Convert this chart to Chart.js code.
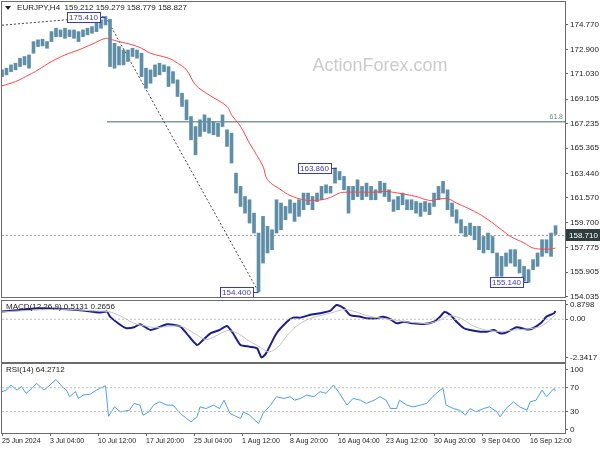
<!DOCTYPE html>
<html>
<head>
<meta charset="utf-8">
<script src="https://cdn.jsdelivr.net/npm/chart.js@4.4.1/dist/chart.umd.min.js"></script>
<style>
  html, body { margin: 0; padding: 0; background: #fff; }
  #wrap { position: relative; width: 600px; height: 450px; overflow: hidden; }
  canvas { position: absolute; left: 0; }
</style>
</head>
<body>
<div id="wrap">
  <canvas id="priceChart" width="600" height="305" style="top:0"></canvas>
  <canvas id="macdChart" width="600" height="70" style="top:296px"></canvas>
  <canvas id="rsiChart" width="600" height="92" style="top:358px"></canvas>
</div>
<script>
// time axis (H4 bar index) and its labels
const xTickIdx = [0, 32, 64, 96, 128, 160, 192, 224, 256, 288, 320, 352];
const xLabels = ['25 Jun 2024', '3 Jul 04:00', '10 Jul 12:00', '17 Jul 20:00', '25 Jul 04:00', '1 Aug 12:00',
                 '8 Aug 20:00', '16 Aug 04:00', '23 Aug 12:00', '30 Aug 20:00', '9 Sep 04:00', '16 Sep 12:00'];
const priceTicks = [174.770, 172.900, 171.030, 169.105, 167.235, 165.365, 163.440, 161.570, 159.700, 157.775, 155.905, 154.035];

// price bars, one per 3 H4 bars
const barStep = 3;
const barHigh = [171.34,171.47,171.72,171.85,172.23,172.36,172.48,173.50,173.63,173.68,
  173.50,174.26,174.52,174.39,174.52,174.39,174.39,174.26,174.39,174.52,
  174.64,174.90,175.15,175.41,175.20,173.37,173.12,172.86,172.86,172.99,
  172.86,172.61,171.47,171.34,171.72,171.85,171.72,171.59,171.21,170.58,
  169.56,169.05,167.78,167.02,167.53,167.91,167.66,167.40,167.27,167.91,
  166.77,166.51,163.46,162.45,161.68,161.43,160.41,158.89,160.16,159.40,
  159.14,161.43,161.18,160.92,161.43,161.18,161.43,161.94,161.94,161.68,
  161.94,162.45,162.57,162.45,163.86,163.59,163.21,162.45,162.45,162.95,
  162.45,162.70,162.45,162.19,162.83,162.70,162.19,161.43,161.68,161.94,
  161.43,161.43,161.30,161.18,161.30,161.18,161.94,162.45,162.83,162.19,
  161.18,160.67,159.91,159.40,159.65,159.40,159.40,158.63,158.89,158.63,
  157.37,157.11,157.37,157.62,157.62,156.86,156.35,156.10,156.86,157.37,
  158.38,158.38,158.89,159.45];
const barLow = [170.83,170.96,171.21,171.34,171.59,171.72,171.47,172.61,173.12,173.17,
  172.99,173.50,173.88,173.88,173.75,173.88,173.75,173.50,173.88,174.01,
  174.14,174.26,174.52,174.77,171.59,171.47,171.72,171.72,171.98,172.36,
  172.23,170.83,169.94,170.32,170.83,170.96,171.21,170.07,170.32,169.31,
  168.55,167.53,166.00,164.86,166.26,166.64,166.51,166.39,166.26,167.02,
  165.50,164.23,161.94,160.92,160.41,159.65,158.89,154.40,156.60,157.37,
  157.62,158.89,159.14,159.91,160.41,159.78,160.16,160.67,161.05,160.67,
  161.30,161.43,161.94,161.94,162.70,162.95,162.19,160.41,161.43,161.68,
  161.43,161.68,161.43,161.43,161.94,161.68,161.30,160.54,160.67,161.05,
  160.67,160.67,160.41,160.16,160.54,160.29,160.92,161.43,161.94,160.67,
  160.16,159.65,158.89,158.63,158.76,158.38,157.62,157.37,157.62,157.37,
  155.59,155.59,156.35,156.60,156.35,155.84,155.21,155.14,156.10,156.35,
  157.11,157.37,157.11,158.78];

// moving average
const maIdx = [0,9,18,24,33,42,51,60,69,72,78,87,93,99,111,117,123,129,138,150,
  153,159,165,174,177,186,192,201,207,213,219,225,231,240,249,255,264,276,285,291,
  297,303,315,324,333,339,348,354,360,366,369];
const maVal = [170.12,170.45,170.96,171.34,171.98,172.48,172.86,173.30,173.75,173.68,
  173.50,173.25,172.99,172.61,172.23,171.85,171.34,170.20,169.43,168.55,
  167.91,167.02,165.75,163.97,162.95,162.19,161.76,161.43,161.38,161.43,
  161.61,161.94,162.01,162.01,162.01,162.07,161.94,161.68,161.38,161.48,
  161.51,161.18,160.54,159.91,159.14,158.63,158.13,157.75,157.67,157.67,157.75];

// drawings
const trendIdx = [0, 69, 171];
const trendVal = [174.75, 175.41, 154.40];
const fibStartIdx = 70;
const fibLevel = 167.38;
const lastPrice = 158.710;
const markIdx = [69, 223, 171, 351];
const markPrice = [175.410, 163.860, 154.400, 155.140];

// MACD(12,26,9)
const macdTicks = [0.8798, 0, -2.3417];
const macdIdx = [0,12,25,43,54,65,70,72,79,83,88,92,99,103,110,114,119,123,130,134,
  139,145,150,154,159,165,170,173,176,183,190,194,199,205,212,219,223,228,232,239,
  243,250,254,259,263,268,274,281,288,292,295,299,303,308,312,319,323,328,332,336,
  343,350,354,359,363,368,369];
const macdVal = [0.47,0.57,0.67,0.61,0.53,0.41,0.47,0.16,-0.35,-0.55,
  -0.49,-0.31,-0.66,-0.55,-0.31,-0.33,-0.45,-0.86,-1.58,-1.27,
  -0.86,-0.66,-0.41,-0.86,-1.58,-1.68,-1.78,-2.34,-2.09,-0.86,
  -0.15,0.10,0.10,0.26,0.37,0.53,0.88,0.67,0.26,0.16,
  0.06,0.06,0.16,0.00,-0.25,-0.15,-0.25,-0.29,-0.15,0.16,
  0.45,0.26,-0.15,-0.55,-0.66,-0.76,-0.76,-0.66,-0.86,-0.82,
  -0.49,-0.62,-0.55,-0.25,0.16,0.37,0.51];
const sigIdx = [0,20,40,60,72,80,88,95,103,112,120,128,136,142,150,157,165,172,178,184,
  190,196,204,212,220,228,236,244,252,262,272,284,292,298,306,314,322,332,342,352,360,369];
const sigVal = [0.45,0.55,0.62,0.52,0.45,0.15,-0.25,-0.40,-0.52,-0.42,
  -0.45,-0.85,-1.25,-1.05,-0.70,-0.85,-1.35,-1.70,-2.00,-1.70,
  -1.00,-0.45,0.00,0.22,0.40,0.60,0.45,0.20,0.08,-0.05,
  -0.18,-0.25,-0.05,0.22,0.05,-0.40,-0.65,-0.75,-0.65,-0.58,-0.40,0.27];

// RSI(14)
const rsiTicks = [100, 70, 30, 0];
const rsiIdx = [0,3,6,10,13,16,20,23,28,32,36,40,43,45,49,51,54,59,63,69,
  71,75,79,85,88,92,94,98,101,105,110,114,119,123,126,130,132,136,141,145,
  148,152,159,161,165,171,174,179,183,188,192,195,199,203,208,212,216,221,225,230,
  234,239,243,248,252,256,259,263,265,270,274,279,283,287,292,294,296,301,305,309,
  312,316,321,325,330,332,336,341,345,350,352,356,360,363,368,369];
const rsiVal = [63.4,66.2,74.6,66,71.9,60.6,69,77.5,66,74.6,84,72,66,54.9,63.4,52,57.6,59.4,66,73.4,
  22,37.8,29.4,32.2,43.5,40.7,23.8,29.4,40.7,46.3,40.7,40.7,26.6,18.2,12.5,21,37.8,35,40.7,35,
  49,26.6,18.2,29.4,23.8,9.7,26.6,40.7,54.9,52,54.9,49,52,57.6,54.9,63.4,60.6,74.6,60.6,40.7,
  52,49,43.5,49,54.9,49,35,35,49,40.7,37.8,40.7,43.5,54.9,66,69,40.7,35,32.2,23.8,
  35,29.4,35,37.8,29.4,21,35,46.3,37.8,32.2,46.3,49,66,54.9,69,64.27];

const FONT = '"Liberation Sans", Arial, sans-serif';
const X_MAX = 375.3;
const pts = (xs, ys) => xs.map((x, i) => ({ x: x, y: ys[i] }));
const level = v => [{ x: 0, y: v }, { x: X_MAX, y: v }];

function xScale(show) {
  return {
    type: 'linear', min: 0, max: X_MAX, offset: false, display: show,
    afterBuildTicks: s => { s.ticks = xTickIdx.map(v => ({ value: v })); },
    afterFit: s => { s.height = show ? 17 : 0; s.paddingLeft = 0; s.paddingRight = 0; },
    ticks: { autoSkip: false, maxRotation: 0, align: 'start', padding: 1, color: '#222',
             font: { family: FONT, size: 7 }, callback: (v, i) => xLabels[i] },
    grid: { drawOnChartArea: false, tickLength: 3, color: '#666' },
    border: { display: false }
  };
}

function yScale(min, max, ticks, fmt) {
  return {
    position: 'right', min: min, max: max,
    afterBuildTicks: s => { s.ticks = ticks.map(v => ({ value: v })); },
    afterFit: s => { s.width = 35; s.paddingTop = 0; s.paddingBottom = 0; },
    ticks: { autoSkip: false, padding: 2, color: '#222', font: { family: FONT, size: 8 }, callback: fmt },
    grid: { drawOnChartArea: false, tickLength: 3, color: '#666' },
    border: { display: false }
  };
}

function framePlugin(title) {
  return {
    id: 'frame',
    afterDraw(chart) {
      const { ctx, chartArea: a } = chart;
      ctx.save();
      ctx.strokeStyle = '#6b6b6b';
      ctx.lineWidth = 1;
      ctx.strokeRect(a.left - 0.5, a.top - 0.5, a.right - a.left + 1, a.bottom - a.top + 1);
      ctx.fillStyle = '#222';
      ctx.font = '8px ' + FONT;
      ctx.textAlign = 'left';
      ctx.textBaseline = 'middle';
      ctx.fillText(title, a.left + 4, a.top + 6);
      ctx.restore();
    }
  };
}

const common = {
  animation: false, responsive: false, events: [],
  plugins: { legend: { display: false }, tooltip: { enabled: false } }
};

// price panel
const pricePlugin = {
  id: 'priceDecor',
  beforeDatasetsDraw(chart) {
    const { ctx } = chart;
    ctx.save();
    ctx.fillStyle = '#cbcbcb';
    ctx.font = '18px ' + FONT;
    ctx.textAlign = 'center';
    ctx.textBaseline = 'middle';
    ctx.fillText('ActionForex.com', 380, 66);
    ctx.restore();
  },
  afterDraw(chart) {
    const { ctx, chartArea: a, scales: { x, y } } = chart;
    ctx.save();
    ctx.font = '8px ' + FONT;
    ctx.textBaseline = 'middle';
    // swing labels
    markIdx.forEach((ix, n) => {
      const px = x.getPixelForValue(ix);
      const py = Math.round(y.getPixelForValue(markPrice[n]));
      const txt = markPrice[n].toFixed(3);
      const w = Math.round(ctx.measureText(txt).width) + 4, h = 10;
      const bx = Math.round(px - 6 - w);
      ctx.fillStyle = '#fff';
      ctx.fillRect(bx, py - h / 2, w, h);
      ctx.strokeStyle = '#3b3bb8';
      ctx.lineWidth = 1;
      ctx.strokeRect(bx + 0.5, py - h / 2 + 0.5, w, h);
      ctx.beginPath();
      ctx.moveTo(bx + w, py + 0.5);
      ctx.lineTo(px, py + 0.5);
      ctx.stroke();
      ctx.fillStyle = '#3b3bb8';
      ctx.textAlign = 'left';
      ctx.fillText(txt, bx + 2, py + 1);
    });
    // fib text
    ctx.fillStyle = '#6f8c8c';
    ctx.font = '7px ' + FONT;
    ctx.textAlign = 'right';
    ctx.fillText('61.8', a.right - 2, y.getPixelForValue(fibLevel) - 5);
    // last price box
    const ly = Math.round(y.getPixelForValue(lastPrice));
    ctx.fillStyle = '#2e3d3d';
    ctx.fillRect(a.right + 1, ly - 6, 35, 12);
    ctx.fillStyle = '#fff';
    ctx.font = '8px ' + FONT;
    ctx.textAlign = 'left';
    ctx.fillText(lastPrice.toFixed(3), a.right + 4, ly + 1);
    // title marker
    ctx.fillStyle = '#222';
    ctx.beginPath();
    ctx.moveTo(a.left + 3, a.top + 4);
    ctx.lineTo(a.left + 9, a.top + 4);
    ctx.lineTo(a.left + 6, a.top + 8);
    ctx.closePath();
    ctx.fill();
    ctx.restore();
  }
};

new Chart(document.getElementById('priceChart'), {
  type: 'bar',
  data: {
    datasets: [
      { type: 'line', data: level(lastPrice), borderColor: '#9a9a9a', borderWidth: 1, borderDash: [2, 2], pointRadius: 0, order: 5 },
      { type: 'line', data: [{ x: fibStartIdx, y: fibLevel }, { x: X_MAX, y: fibLevel }], borderColor: '#7f9a9a', borderWidth: 1.5, pointRadius: 0, order: 4 },
      { type: 'line', data: pts(trendIdx, trendVal), borderColor: '#444', borderWidth: 1, borderDash: [2, 2], pointRadius: 0, order: 3 },
      { type: 'bar', data: barHigh.map((h, k) => ({ x: k * barStep, y: [barLow[k], h] })),
        backgroundColor: '#5f8ea7', barThickness: 3, grouped: false, order: 2 },
      { type: 'line', data: pts(maIdx, maVal), borderColor: '#ff4545', borderWidth: 1, pointRadius: 0, tension: 0.4, order: 1 }
    ]
  },
  options: Object.assign({}, common, {
    layout: { padding: { left: 2, top: 2, bottom: 8, right: 0 } },
    scales: {
      x: xScale(false),
      y: yScale(154.01, 176.52, priceTicks, v => v.toFixed(3))
    }
  }),
  plugins: [pricePlugin, framePlugin('     EURJPY,H4  159.212 159.279 158.779 158.827')]
});

// MACD panel
new Chart(document.getElementById('macdChart'), {
  type: 'line',
  data: {
    datasets: [
      { data: level(0), borderColor: '#bdbdbd', borderWidth: 1, borderDash: [2, 2], pointRadius: 0 },
      { data: pts(sigIdx, sigVal), borderColor: '#c4c4c4', borderWidth: 1, pointRadius: 0, tension: 0.3 },
      { data: pts(macdIdx, macdVal), borderColor: '#1c1c8c', borderWidth: 2, pointRadius: 0, tension: 0.2 }
    ]
  },
  options: Object.assign({}, common, {
    layout: { padding: { left: 2, top: 5, bottom: 4, right: 0 } },
    scales: {
      x: xScale(false),
      y: yScale(-2.62, 1.12, macdTicks, v => v === 0 ? '0.00' : v.toFixed(4))
    }
  }),
  plugins: [framePlugin('MACD(12,26,9) 0.5131 0.2656')]
});

// RSI panel
new Chart(document.getElementById('rsiChart'), {
  type: 'line',
  data: {
    datasets: [
      { data: level(70), borderColor: '#bdbdbd', borderWidth: 1, borderDash: [2, 2], pointRadius: 0 },
      { data: level(30), borderColor: '#bdbdbd', borderWidth: 1, borderDash: [2, 2], pointRadius: 0 },
      { data: pts(rsiIdx, rsiVal), borderColor: '#4a9ff0', borderWidth: 1, pointRadius: 0 }
    ]
  },
  options: Object.assign({}, common, {
    layout: { padding: { left: 2, top: 6, bottom: 0, right: 0 } },
    scales: {
      x: xScale(true),
      y: yScale(-6.2, 110, rsiTicks, v => String(v))
    }
  }),
  plugins: [framePlugin('RSI(14) 64.2712')]
});
</script>
</body>
</html>
